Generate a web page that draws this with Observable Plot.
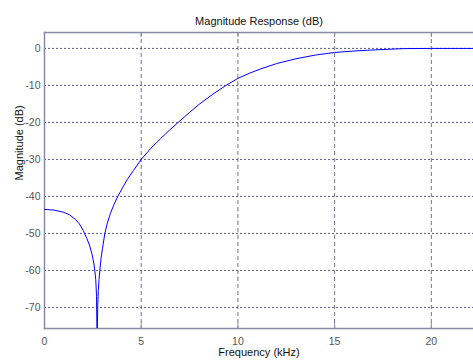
<!DOCTYPE html>
<html>
<head>
<meta charset="utf-8">
<script src="https://cdn.jsdelivr.net/npm/d3@7"></script>
<script src="https://cdn.jsdelivr.net/npm/@observablehq/plot@0.6"></script>
<style>
  html, body { margin: 0; padding: 0; background: #fff; }
  svg { display: block; }
</style>
</head>
<body>
<div id="chart"></div>
<script>
const titleText = "Magnitude Response (dB)";
const xLabel = "Frequency (kHz)";
const yLabel = "Magnitude (dB)";
const xTicks = [0, 5, 10, 15, 20];
const yTicks = [0, -10, -20, -30, -40, -50, -60, -70];

// Frequency (kHz) and magnitude (dB)
const freqKHz = [0, 0.5, 1.0, 1.3, 1.6, 1.8, 2.0, 2.2, 2.34, 2.45, 2.55, 2.6, 2.65, 2.69, 2.72, 2.75, 2.78, 2.82, 2.86, 2.93, 3.0, 3.12, 3.25, 3.4, 3.6, 3.79, 4.0, 4.27, 4.6, 5.0, 5.5, 6.0, 6.5, 6.91, 7.5, 8.0, 8.7, 9.35, 10.0, 10.6, 11.2, 12.0, 13.0, 14.0, 15.0, 16.0, 16.7, 17.5, 18.6, 20.0, 22.2];
const magDB =   [-43.5, -43.7, -44.3, -45.0, -46.2, -47.4, -49.2, -51.5, -53.4, -55.5, -58.0, -60.0, -62.5, -67, -80, -70, -65.5, -62.5, -60.0, -56.5, -54.0, -50.0, -47.2, -44.7, -42.1, -40.0, -38.0, -35.5, -33.0, -30.0, -27.0, -24.4, -21.9, -20.0, -17.3, -15.1, -12.4, -10.1, -8.1, -6.7, -5.5, -4.1, -2.8, -1.8, -1.1, -0.7, -0.5, -0.3, -0.05, 0, 0];

const data = freqKHz.map((f, i) => ({f, m: magDB[i]}));

const FONT = "'Liberation Sans Narrow', 'Arial Narrow', 'Liberation Sans', Arial, sans-serif";
const gridColor = "#5a5a78";
const frameColor = "#8a8aa8";

const chart = Plot.plot({
  width: 473,
  height: 362,
  marginLeft: 44,
  marginRight: 0,
  marginTop: 32,
  marginBottom: 34,
  style: {fontFamily: FONT, fontSize: "10.5px", background: "#fff", color: "#444"},
  x: {domain: [0, 22.18], ticks: xTicks, label: null},
  y: {domain: [-75.7, 4.3], ticks: yTicks, label: null},
  marks: [
    // grid
    Plot.ruleY(yTicks, {stroke: gridColor, strokeWidth: 1, strokeDasharray: "2,2"}),
    Plot.ruleX(xTicks.filter(d => d > 0), {stroke: gridColor, strokeOpacity: 0.85, strokeWidth: 1, strokeDasharray: "4,3"}),
    // inside ticks (bottom and top)
    Plot.ruleX(xTicks.filter(d => d > 0), {stroke: frameColor, insetTop: 291}),
    Plot.ruleX(xTicks.filter(d => d > 0), {stroke: frameColor, insetBottom: 291}),
    // frame (left, top, bottom)
    Plot.frame({anchor: "left", stroke: frameColor, strokeWidth: 1.5}),
    Plot.frame({anchor: "top", stroke: frameColor, strokeWidth: 1.5}),
    Plot.frame({anchor: "bottom", stroke: frameColor, strokeWidth: 1.5}),
    // axes
    Plot.axisX(xTicks, {tickSize: 0, tickPadding: 9, fill: "#555", fontSize: 10.5}),
    Plot.axisY(yTicks, {tickSize: 0, tickPadding: 4, fill: "#555", fontSize: 10.5, tickFormat: d => String(d)}),
    // curve
    Plot.line(data, {x: "f", y: "m", stroke: "#0000ff", strokeWidth: 1, clip: true}),
    // titles
    Plot.text([titleText], {frameAnchor: "top", dy: -15, fill: "#111", fontSize: 11, text: d => d}),
    Plot.text([xLabel], {frameAnchor: "bottom", dy: 27, fill: "#111", fontSize: 11, text: d => d}),
    Plot.text([yLabel], {frameAnchor: "left", dx: -25, rotate: -90, fill: "#111", fontSize: 11, text: d => d})
  ]
});
document.getElementById("chart").appendChild(chart);
</script>
</body>
</html>
